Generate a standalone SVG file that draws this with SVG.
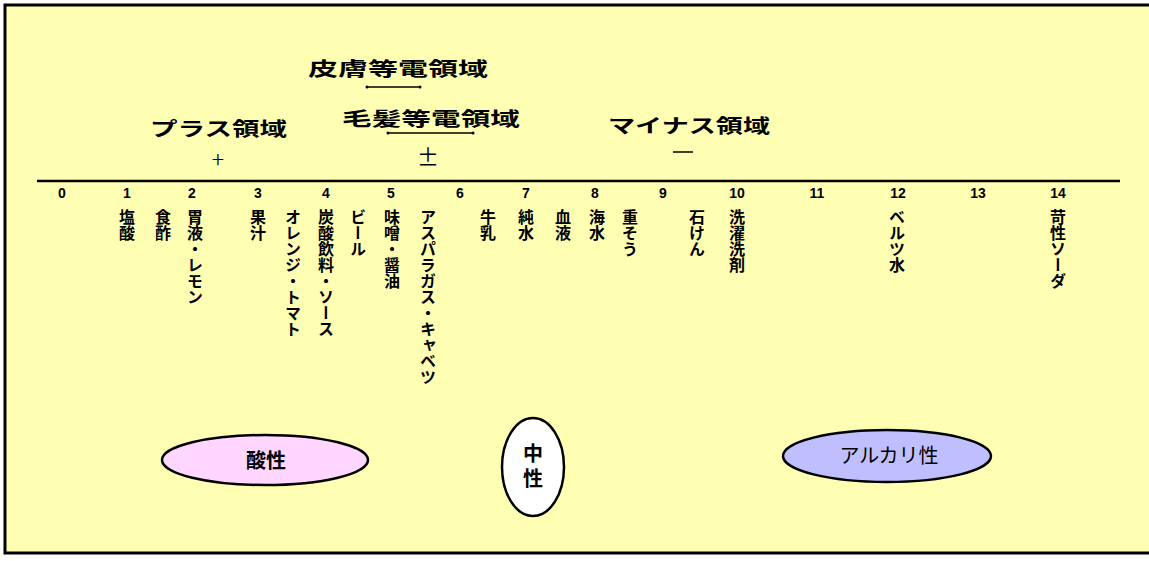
<svg xmlns="http://www.w3.org/2000/svg" width="1149" height="561" viewBox="0 0 1149 561">
<style>
.bg{fill:#FFFFB3;stroke:#000;stroke-width:3}
.lbl{font-family:"Noto Sans CJK JP","Noto Sans",sans-serif;font-size:19px;fill:#000}
.num{font-family:"Liberation Sans","Noto Sans CJK JP",sans-serif;font-size:14px;font-weight:bold;text-anchor:middle;fill:#000}
.v{font-family:"Noto Sans CJK JP",sans-serif;font-size:16px;font-weight:bold;writing-mode:vertical-rl;fill:#000}
.sym{font-family:"Noto Sans CJK JP",sans-serif;font-size:22px;text-anchor:middle;fill:#000}
.bar{stroke:#000;stroke-width:1.5}
.ell{stroke:#000;stroke-width:2.5}
.et{font-family:"Noto Sans CJK JP",sans-serif;font-size:20px;text-anchor:middle;fill:#000}
</style>
<rect x="0" y="0" width="1149" height="561" fill="#fff"/>
<rect class="bg" x="5" y="5" width="1160" height="548"/>
<g id="axis">
<line x1="37" y1="181" x2="1120" y2="181" stroke="#000" stroke-width="2.5"/>
</g>
<g id="ticks">
<text class="num" x="62" y="198">0</text>
<text class="num" x="127" y="198">1</text>
<text class="num" x="192" y="198">2</text>
<text class="num" x="258" y="198">3</text>
<text class="num" x="326" y="198">4</text>
<text class="num" x="391" y="198">5</text>
<text class="num" x="460" y="198">6</text>
<text class="num" x="526" y="198">7</text>
<text class="num" x="595" y="198">8</text>
<text class="num" x="663" y="198">9</text>
<text class="num" x="737" y="198">10</text>
<text class="num" x="817" y="198">11</text>
<text class="num" x="898" y="198">12</text>
<text class="num" x="978" y="198">13</text>
<text class="num" x="1058" y="198">14</text>
</g>
<g id="regions">
<text class="lbl" x="308" y="76" textLength="180" lengthAdjust="spacingAndGlyphs" font-weight="bold">皮膚等電領域</text>
<line class="bar" x1="367" y1="87" x2="420" y2="87"/>
<circle cx="367" cy="87" r="1.5"/><circle cx="420" cy="87" r="1.5"/>
<text class="lbl" x="342" y="126" textLength="178" lengthAdjust="spacingAndGlyphs" font-weight="bold">毛髪等電領域</text>
<line class="bar" x1="388" y1="133" x2="473" y2="133"/>
<circle cx="388" cy="133" r="1.5"/><circle cx="473" cy="133" r="1.5"/>
<text class="sym" x="428" y="165">±</text>
<text class="lbl" x="150" y="136" textLength="137" lengthAdjust="spacingAndGlyphs" font-weight="bold">プラス領域</text>
<text class="sym" x="218" y="168" style="font-size:23px;font-weight:300">+</text>
<text class="lbl" x="608" y="133" textLength="162" lengthAdjust="spacingAndGlyphs" font-weight="bold">マイナス領域</text>
<line x1="673" y1="152" x2="693" y2="152" stroke="#000" stroke-width="1.5"/>
</g>
<g id="substances">
<text class="v" x="127" y="209">塩酸</text>
<text class="v" x="163" y="209">食酢</text>
<text class="v" x="195" y="209">胃液・レモン</text>
<text class="v" x="258" y="209">果汁</text>
<text class="v" x="293" y="209">オレンジ・トマト</text>
<text class="v" x="326" y="209">炭酸飲料・ソース</text>
<text class="v" x="358" y="209">ビール</text>
<text class="v" x="392" y="209">味噌・醤油</text>
<text class="v" x="428" y="209">アスパラガス・キャベツ</text>
<text class="v" x="488" y="209">牛乳</text>
<text class="v" x="526" y="209">純水</text>
<text class="v" x="563" y="209">血液</text>
<text class="v" x="597" y="209">海水</text>
<text class="v" x="630" y="209">重そう</text>
<text class="v" x="697" y="209">石けん</text>
<text class="v" x="737" y="209">洗濯洗剤</text>
<text class="v" x="897" y="209">ベルツ水</text>
<text class="v" x="1058" y="209">苛性ソーダ</text>
</g>
<g id="acid">
<ellipse class="ell" cx="265" cy="460" rx="103" ry="25" fill="#FFD6FF"/>
<text class="et" x="266" y="468" font-weight="bold">酸性</text>
</g>
<g id="neutral">
<ellipse class="ell" cx="533" cy="467" rx="31" ry="49" fill="#fff"/>
<text x="533" y="443" font-family="&quot;Noto Sans CJK JP&quot;,sans-serif" font-size="20" font-weight="bold" letter-spacing="5" style="writing-mode:vertical-rl">中性</text>
</g>
<g id="alkali">
<ellipse class="ell" cx="887" cy="456" rx="104" ry="26" fill="#BFBFFF"/>
<text class="et" x="889" y="463">アルカリ性</text>
</g>
</svg>
